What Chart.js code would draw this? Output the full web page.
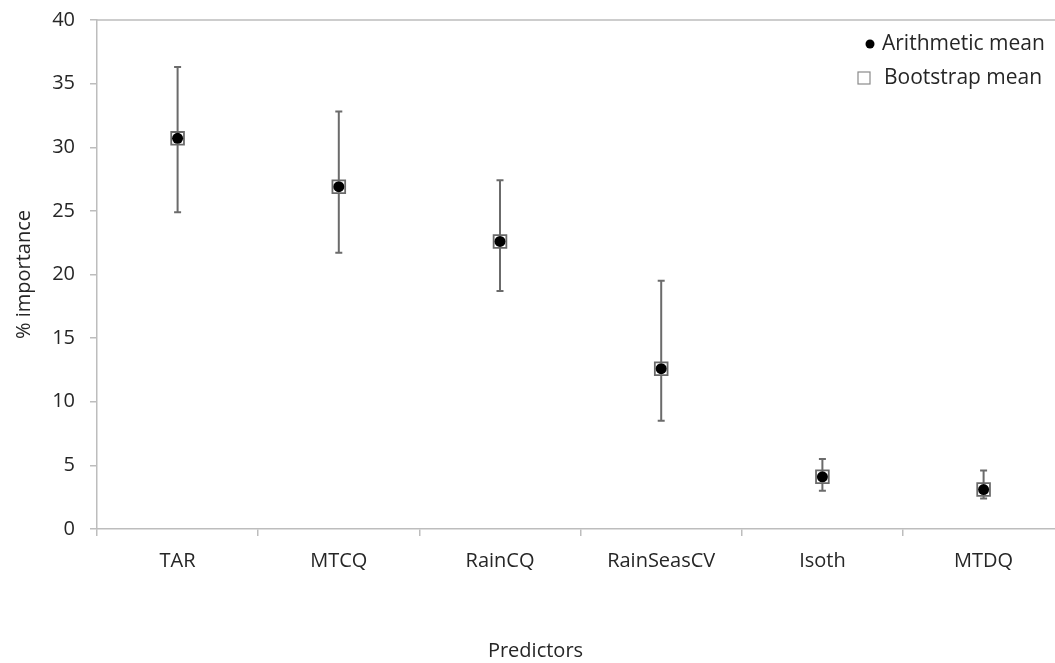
<!DOCTYPE html>
<html>
<head>
<meta charset="utf-8">
<script src="https://cdn.jsdelivr.net/npm/chart.js@4.4.0/dist/chart.umd.min.js"></script>
<style>
html,body{margin:0;padding:0;background:#fff;overflow:hidden}
#wrap{width:1075px;height:663px;position:relative}
</style>
</head>
<body>
<div id="wrap"><canvas id="chart"></canvas></div>
<script>
const categories=['TAR','MTCQ','RainCQ','RainSeasCV','Isoth','MTDQ'];
const arithMean=[30.7,26.9,22.6,12.6,4.1,3.1];
const bootMean=[30.7,26.9,22.6,12.6,4.1,3.1];
const errLow=[24.9,21.7,18.7,8.5,3.0,2.4];
const errHigh=[36.3,32.8,27.4,19.5,5.5,4.6];
const yTicks=[0,5,10,15,20,25,30,35,40];

const FONT='"Open Sans"';
const AXIS='#bdbdbd';
const TXT='#262626';

// error bars under the markers
const errorBars={
  id:'errorBars',
  beforeDatasetsDraw(chart){
    const ctx=chart.ctx,x=chart.scales.x,y=chart.scales.y;
    ctx.save();ctx.strokeStyle='#6b6b6b';ctx.lineWidth=2;
    categories.forEach((c,i)=>{
      const px=x.getPixelForValue(i),t=y.getPixelForValue(errHigh[i]),b=y.getPixelForValue(errLow[i]);
      ctx.beginPath();ctx.moveTo(px,t);ctx.lineTo(px,b);
      ctx.moveTo(px-3.5,t);ctx.lineTo(px+3.5,t);
      ctx.moveTo(px-3.5,b);ctx.lineTo(px+3.5,b);
      ctx.stroke();
    });
    ctx.restore();
  }
};

// top border + legend in the upper right
const extras={
  id:'extras',
  afterDraw(chart){
    const ctx=chart.ctx,a=chart.chartArea;
    ctx.save();
    ctx.strokeStyle=AXIS;ctx.lineWidth=1.5;
    ctx.beginPath();ctx.moveTo(a.left,a.top);ctx.lineTo(a.right,a.top);ctx.stroke();
    ctx.font='21px '+FONT;ctx.textBaseline='middle';ctx.textAlign='left';
    const lx=870,ly1=44,ly2=78;
    ctx.fillStyle='#000';ctx.beginPath();ctx.arc(lx,ly1,4.5,0,Math.PI*2);ctx.fill();
    ctx.fillStyle=TXT;ctx.fillText(chart.data.datasets[0].label,lx+12,ly1);
    ctx.strokeStyle='#8a8a8a';ctx.lineWidth=1.2;ctx.strokeRect(lx-12,ly2-6,12,12);
    ctx.fillText(chart.data.datasets[1].label,lx+14,ly2);
    ctx.restore();
  }
};

new Chart(document.getElementById('chart'),{
  type:'line',
  data:{labels:categories,datasets:[
    {label:'Arithmetic mean',data:arithMean,showLine:false,pointStyle:'circle',pointRadius:5.5,pointBorderWidth:0,
     pointBackgroundColor:'#000',pointBorderColor:'#000',pointHoverRadius:5.5},
    {label:'Bootstrap mean',data:bootMean,showLine:false,pointStyle:'rect',pointRadius:9,pointBorderWidth:1.8,
     pointBorderColor:'#6a6a6a',pointBackgroundColor:'#ffffff',pointHoverRadius:9}
  ]},
  options:{
    responsive:true,maintainAspectRatio:false,animation:false,
    layout:{padding:{top:20,right:4,left:0,bottom:0}},
    plugins:{
      legend:{display:false},tooltip:{enabled:false},
      title:{display:true,position:'bottom',text:'Predictors',color:TXT,font:{family:'Open Sans',size:20,weight:'normal'},padding:{top:10,bottom:0}}
    },
    scales:{
      x:{type:'category',offset:true,
        grid:{offset:true,drawOnChartArea:false,color:AXIS,tickLength:7,lineWidth:1.5},
        border:{color:AXIS,width:1.5},
        ticks:{color:TXT,font:{family:'Open Sans',size:20},padding:13,maxRotation:0},
        afterFit(s){s.height=100}
      },
      y:{min:0,max:40,
        afterBuildTicks(s){s.ticks=yTicks.map(v=>({value:v}))},
        grid:{drawOnChartArea:false,color:AXIS,tickLength:7,lineWidth:1.5},
        border:{color:AXIS,width:1.5},
        ticks:{color:TXT,font:{family:'Open Sans',size:20},padding:15},
        title:{display:true,text:'% importance',color:TXT,font:{family:'Open Sans',size:20},padding:{top:12,bottom:0}},
        afterFit(s){s.width=97;s.paddingTop=0;s.paddingBottom=0}
      }
    }
  },
  plugins:[errorBars,extras]
});
</script>
</body>
</html>
